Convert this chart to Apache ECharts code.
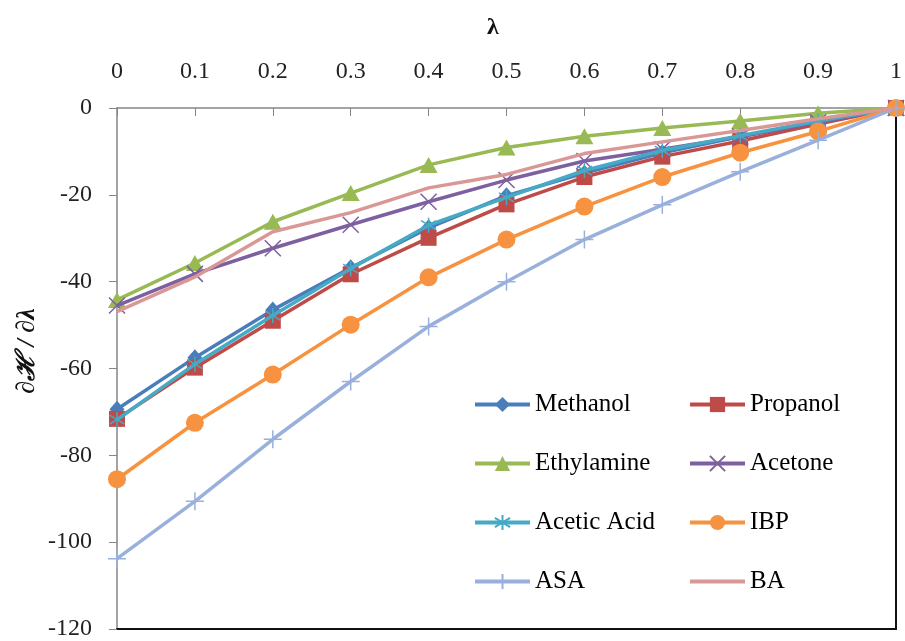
<!DOCTYPE html>
<html>
<head>
<meta charset="utf-8">
<script src="https://cdn.jsdelivr.net/npm/echarts@6/dist/echarts.min.js"></script>
<style>html,body{margin:0;padding:0;background:#fff;}#c{width:905px;height:641px;}</style>
</head>
<body>
<div id="c"></div>
<script>
const categories = ['0','0.1','0.2','0.3','0.4','0.5','0.6','0.7','0.8','0.9','1'];
const methanol   = [-69.4, -57.5, -46.5, -36.8, -27.6, -20.2, -15.0, -10.3, -6.6, -3.2, 0];
const propanol   = [-71.6, -59.8, -49.0, -38.3, -29.9, -22.2, -15.9, -11.2, -7.6, -3.7, 0];
const ethylamine = [-44.2, -35.7, -26.2, -19.6, -13.1, -9.1, -6.5, -4.6, -3.0, -1.2, 0];
const acetone    = [-45.5, -38.2, -32.3, -26.9, -21.6, -16.6, -12.2, -9.5, -6.6, -3.3, 0];
const aceticAcid = [-71.8, -59.0, -47.8, -37.0, -27.0, -20.6, -14.4, -9.8, -6.4, -3.0, 0];
const ibp        = [-85.5, -72.5, -61.4, -49.9, -39.0, -30.3, -22.7, -15.9, -10.3, -5.4, 0];
const asa        = [-103.8, -90.6, -76.3, -63.0, -50.3, -40.0, -30.3, -22.3, -14.7, -7.4, 0];
const ba         = [-46.9, -38.9, -28.5, -24.1, -18.4, -15.3, -10.5, -7.8, -5.2, -2.5, 0];

const seriesNames = ['Methanol','Propanol','Ethylamine','Acetone','Acetic Acid','IBP','ASA','BA'];
const seriesData = [methanol, propanol, ethylamine, acetone, aceticAcid, ibp, asa, ba];
const colors = ['#4A7EBB','#BE4B48','#98B954','#7D60A0','#46AAC5','#F69240','#9AB0DC','#D99795'];
const symbols = ['diamond','rect','triangle','path://M0,0L10,10M10,0L0,10','path://M5,0L5,10M0,2L10,8M0,8L10,2','circle','path://M5,0L5,10M0,5L10,5','none'];
const symbolSizes = [[15,17],16,[18,16],16,15,18,18,0];
const stroked = [false,false,false,true,true,false,true,false];

const serif = "'Liberation Serif','Times New Roman',serif";

const series = seriesNames.map((n, i) => ({
  name: n,
  type: 'line',
  data: seriesData[i],
  symbol: symbols[i],
  symbolSize: symbolSizes[i],
  showSymbol: symbols[i] !== 'none',
  color: colors[i],
  lineStyle: { width: 3.5, color: colors[i] },
  itemStyle: stroked[i] ? { color: colors[i], borderColor: colors[i], borderWidth: 1.5 } : { color: colors[i], borderWidth: 0 },
  emphasis: { disabled: true },
  animation: false,
  z: 2 + i
}));

const legendItem = (n) => (n === 'BA'
  ? { name: n, itemStyle: { color: 'rgba(0,0,0,0)', borderWidth: 0, opacity: 0 } }
  : { name: n });

const legendCommon = {
  orient: 'vertical', top: 387,
  itemWidth: 55, itemHeight: 19, itemGap: 34,
  lineStyle: { width: 4 },
  textStyle: { fontFamily: serif, fontSize: 25, color: '#000' }
};

const chart = echarts.init(document.getElementById('c'), null, { renderer: 'canvas' });
chart.setOption({
  backgroundColor: '#fff',
  animation: false,
  grid: { left: 117, right: 5, top: 108, bottom: 11, containLabel: false },
  legend: [
    Object.assign({ data: ['Methanol','Ethylamine','Acetic Acid','ASA'].map(legendItem), left: 468 }, legendCommon),
    Object.assign({ data: ['Propanol','Acetone','IBP','BA'].map(legendItem), left: 683 }, legendCommon)
  ],
  xAxis: [
    {
      type: 'category', data: categories, position: 'top', boundaryGap: false,
      axisLine: { show: true, onZero: false, lineStyle: { color: '#868686', width: 1.5 } },
      axisTick: { show: true, inside: true, length: 8, lineStyle: { color: '#868686' } },
      axisLabel: { margin: 24, fontFamily: serif, fontSize: 24, color: '#222' },
      splitLine: { show: false }
    },
    {
      type: 'category', data: categories, position: 'bottom', boundaryGap: false,
      axisLine: { show: true, onZero: false, lineStyle: { color: '#111', width: 2 } },
      axisTick: { show: false }, axisLabel: { show: false }, splitLine: { show: false }
    }
  ],
  yAxis: [
    {
      type: 'value', min: -120, max: 0, interval: 20,
      axisLine: { show: true, onZero: false, lineStyle: { color: '#868686', width: 1.5 } },
      axisTick: { show: true, inside: false, length: 8, lineStyle: { color: '#868686' } },
      axisLabel: { margin: 25, fontFamily: serif, fontSize: 24, color: '#222' },
      splitLine: { show: false }
    },
    {
      type: 'value', min: -120, max: 0, interval: 20, position: 'right',
      axisLine: { show: true, onZero: false, lineStyle: { color: '#111', width: 2 } },
      axisTick: { show: false }, axisLabel: { show: false }, splitLine: { show: false }
    }
  ],
  graphic: [
    {
      type: 'text', x: 493, y: 28,
      style: { text: 'λ', align: 'center', verticalAlign: 'middle', fontFamily: serif, fontSize: 24, fontWeight: 'bold', fill: '#111' }
    },
    {
      type: 'text', x: 27, y: 351, rotation: Math.PI / 2,
      style: { text: '∂ℋ / ∂λ', align: 'center', verticalAlign: 'middle', fontFamily: serif, fontSize: 26, fontWeight: 'bold', fontStyle: 'italic', fill: '#111' }
    }
  ],
  series: series
});
</script>
</body>
</html>
